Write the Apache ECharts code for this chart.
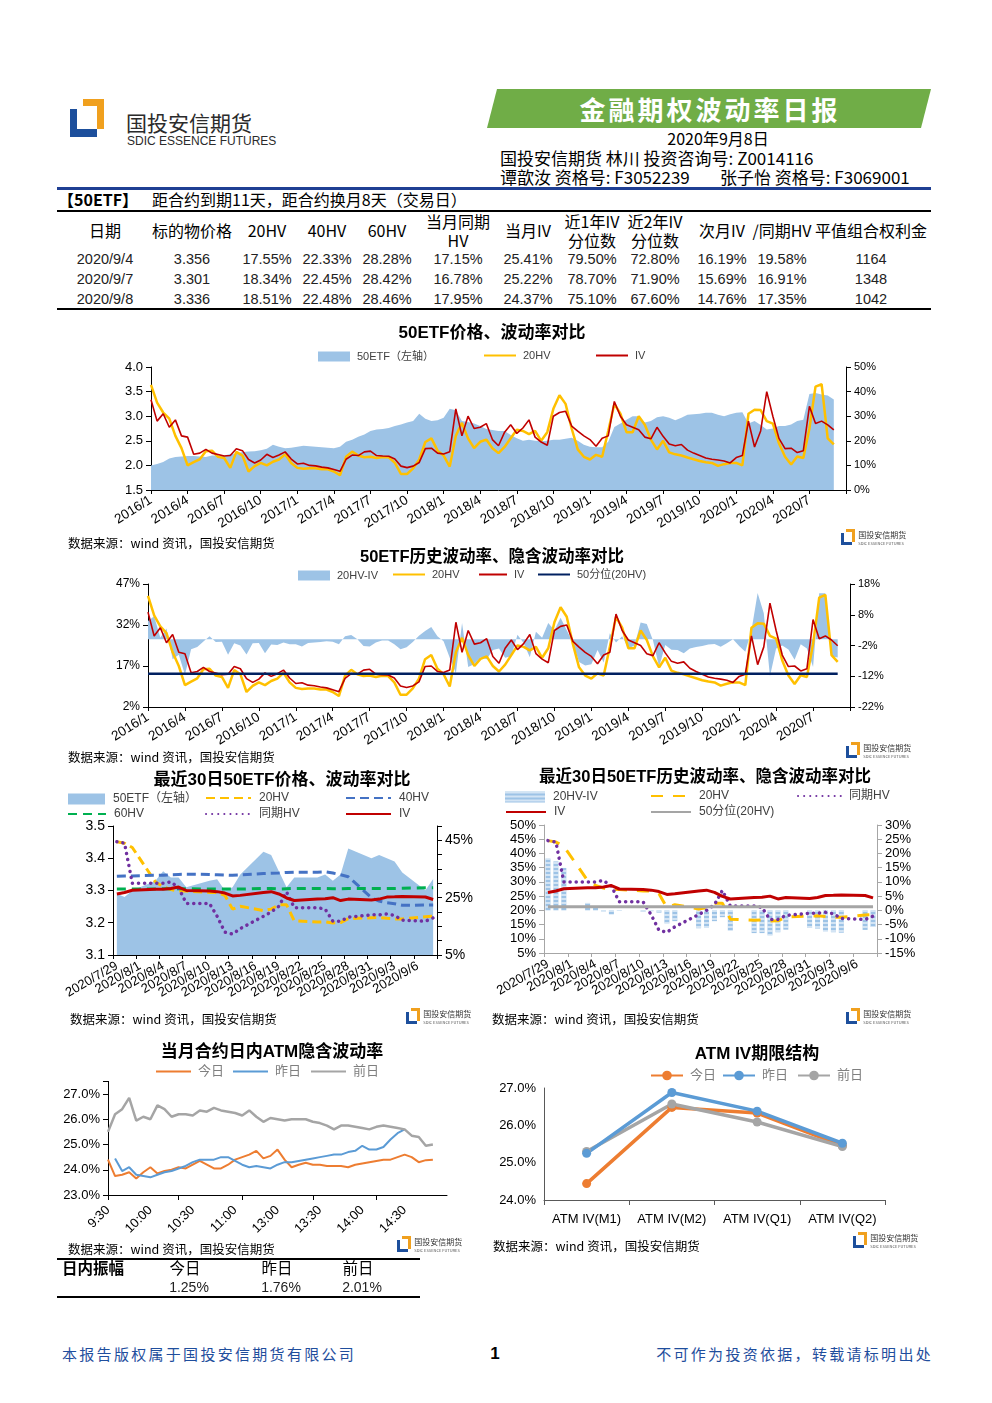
<!DOCTYPE html>
<html>
<head>
<meta charset="utf-8">
<title>金融期权波动率日报</title>
<script src="https://cdn.jsdelivr.net/npm/echarts@6/dist/echarts.min.js"></script>
<style>
  body { margin: 0; background: #fff; }
  #page { position: relative; width: 992px; height: 1403px; overflow: hidden; background: #fff;
          font-family: 'Noto Sans CJK SC', 'Liberation Sans', sans-serif; color: #000; }
  .t { position: absolute; white-space: nowrap; line-height: 1; }
  .b { position: absolute; }
  .chart { position: absolute; }
</style>
</head>
<body>
<div id="page">
  <div class="chart" id="c1" style="left:0;top:320px;width:992px;height:225px"></div>
  <div class="chart" id="c2" style="left:0;top:547px;width:992px;height:218px"></div>
  <div class="chart" id="c3" style="left:0;top:766px;width:490px;height:262px"></div>
  <div class="chart" id="c4" style="left:490px;top:766px;width:502px;height:262px"></div>
  <div class="chart" id="c5" style="left:0;top:1038px;width:490px;height:205px"></div>
  <div class="chart" id="c6" style="left:490px;top:1038px;width:502px;height:205px"></div>
</div>
<script>
const FONT = "'Liberation Sans','Noto Sans CJK SC',sans-serif"

// ---------- table ----------
const tableCols = [105, 192, 267, 327, 387, 458, 528, 592, 655, 722, 782, 871]
const tableHead = [['日期'], ['标的物价格'], ['20HV'], ['40HV'], ['60HV'], ['当月同期', 'HV'], ['当月IV'],
  ['近1年IV', '分位数'], ['近2年IV', '分位数'], ['次月IV'], ['/同期HV'], ['平值组合权利金']]
const tableRows = [
  ['2020/9/4', '3.356', '17.55%', '22.33%', '28.28%', '17.15%', '25.41%', '79.50%', '72.80%', '16.19%', '19.58%', '1164'],
  ['2020/9/7', '3.301', '18.34%', '22.45%', '28.42%', '16.78%', '25.22%', '78.70%', '71.90%', '15.69%', '16.91%', '1348'],
  ['2020/9/8', '3.336', '18.51%', '22.48%', '28.46%', '17.95%', '24.37%', '75.10%', '67.60%', '14.76%', '17.35%', '1042'],
]
const swingHead = ['今日', '昨日', '前日']
const swingVals = ['1.25%', '1.76%', '2.01%']

// ---------- long history (semi-monthly samples, 2016/1 - 2020/9) ----------
const longDates = []
for (let y = 2016; y <= 2020; y++) {
  for (let m = 1; m <= 12; m++) {
    if (y === 2020 && m > 10) break
    longDates.push(y + '/' + m + '/1')
    if (!(y === 2020 && m === 10)) longDates.push(y + '/' + m + '/16')
  }
}
const etfPrice = [2.00, 2.03, 2.07, 2.14, 2.17, 2.18, 2.19, 2.19, 2.18, 2.17,
  2.20, 2.20, 2.20, 2.23, 2.24, 2.27, 2.28, 2.29, 2.31, 2.34,
  2.42, 2.38, 2.35, 2.36, 2.38, 2.40, 2.39, 2.38, 2.37, 2.36,
  2.35, 2.38, 2.48, 2.52, 2.58, 2.63, 2.70, 2.73, 2.74, 2.76,
  2.80, 2.83, 2.87, 2.90, 3.05, 2.95, 2.90, 2.92, 2.97, 3.15,
  3.12, 2.90, 2.88, 2.85, 2.80, 2.74, 2.72, 2.70, 2.70, 2.62,
  2.55, 2.50, 2.52, 2.50, 2.49, 2.50, 2.52, 2.52, 2.54, 2.56,
  2.50, 2.42, 2.38, 2.37, 2.37, 2.48, 2.78, 2.85, 2.93, 3.00,
  3.00, 2.87, 2.90, 2.98, 3.00, 2.97, 2.92, 2.97, 3.03, 3.04,
  3.05, 3.07, 3.07, 3.03, 3.00, 3.04, 3.07, 3.08, 2.85, 2.90,
  2.82, 2.73, 2.75, 2.80, 2.80, 2.83, 2.90, 2.93, 3.45, 3.47,
  3.44, 3.42, 3.34]
const hv20 = [42.7, 35.5, 31.5, 29, 22, 17, 10, 11.3, 12.5, 15.8,
  16, 13.5, 13, 9, 15.5, 14, 7.5, 9.7, 11, 10,
  11.5, 12.4, 14.5, 11, 9, 8.6, 8.8, 8.8, 8.4, 8.4,
  7.5, 6, 13.5, 15.6, 14, 13.3, 13.5, 13, 13.4, 13.3,
  11, 6.5, 6.5, 8.8, 12.4, 19.5, 21, 16, 14, 9.5,
  22, 27.3, 21, 17, 19.6, 20.5, 17, 15, 17.5, 21,
  24.5, 24, 22.7, 24, 20, 23.5, 33, 38.5, 35, 25,
  16.5, 13.5, 12.4, 14.3, 13.5, 24, 35, 31, 23.5, 23.5,
  30, 26.5, 20.5, 16.5, 20, 15.3, 14.5, 14, 13.2, 12.5,
  11.8, 11.3, 11, 9.8, 10.5, 11, 11, 10, 31, 32.6,
  32.5, 28, 27, 19, 13.5, 10.4, 13.6, 13, 25, 42,
  43, 21, 18.5]
const ivAtm = [36.7, 28, 31, 25.5, 28.5, 22, 21.5, 14.5, 15, 16.5,
  15, 14.4, 13.8, 14, 16.8, 16, 12.4, 11, 12.2, 14.5,
  13.2, 14.2, 15.5, 12.6, 10.6, 10.9, 10, 9.8, 9.3, 9,
  8.3, 7.6, 12.5, 14.2, 14, 15.5, 15.8, 14, 13.8, 13.7,
  12.6, 9.7, 9.1, 9.7, 11.2, 16.8, 17, 15, 14.6, 15.5,
  33, 22, 30, 25, 25.5, 27, 20.5, 18, 23.5, 26.5,
  23, 25.2, 28.5, 21.5, 19.5, 18.2, 30, 31.5, 32, 26,
  23.9, 22, 20.5, 17.8, 21, 22, 36, 30, 26.5, 25.5,
  24.5, 21.5, 20.8, 25.5, 21.8, 18.7, 18, 18.5, 16.2, 15,
  14, 13, 12.5, 12.2, 11.8, 11, 13.2, 14, 28, 17.5,
  24, 40, 30, 21, 16.8, 17, 15.2, 16, 34, 27,
  28, 26.5, 24.4]
const hvMedianLong = 14.2

// ---------- last 30 trading days ----------
const days42 = []
for (let i = 0; i < 42; i++) {
  const d = new Date(2020, 6, 29 + i)
  days42.push(d.getFullYear() + '/' + (d.getMonth() + 1) + '/' + d.getDate())
}
const tradeDays30 = ['2020/7/29', '2020/7/30', '2020/7/31', '2020/8/3', '2020/8/4', '2020/8/5', '2020/8/6', '2020/8/7',
  '2020/8/10', '2020/8/11', '2020/8/12', '2020/8/13', '2020/8/14', '2020/8/17', '2020/8/18', '2020/8/19', '2020/8/20',
  '2020/8/21', '2020/8/24', '2020/8/25', '2020/8/26', '2020/8/27', '2020/8/28', '2020/8/31', '2020/9/1', '2020/9/2',
  '2020/9/3', '2020/9/4', '2020/9/7', '2020/9/8']
const etf30 = [3.29, 3.28, 3.30, 3.33, 3.36, 3.34, 3.34, 3.31, 3.33, 3.335, 3.30, 3.31, 3.35, 3.42, 3.41,
  3.36, 3.31, 3.34, 3.34, 3.35, 3.33, 3.35, 3.43, 3.40, 3.41, 3.40, 3.39, 3.356, 3.301, 3.336]
const hv20_30 = [44.5, 44.0, 42.5, 30.5, 28.8, 27.8, 27.3, 27.3, 26.8, 26.8, 25.8, 21.0, 22.0, 20.5, 21.0,
  22.5, 22.5, 16.9, 16.5, 16.6, 16.2, 16.3, 17.7, 18.0, 18.1, 17.8, 17.6, 17.55, 18.34, 18.51]
const hv40_30 = [32.5, 32.6, 32.6, 32.8, 32.8, 33.0, 33.1, 33.2, 33.1, 33.0, 32.9, 32.8, 32.9, 33.4, 33.5,
  33.6, 33.8, 33.9, 33.9, 34.0, 33.6, 33.0, 32.3, 25.0, 23.8, 23.2, 22.9, 22.33, 22.45, 22.48]
const hv60_30 = [28.0, 28.0, 28.0, 28.0, 28.1, 28.1, 28.1, 28.1, 28.0, 28.0, 28.0, 28.0, 28.0, 28.2, 28.2,
  28.0, 28.1, 28.2, 28.2, 28.2, 28.1, 28.1, 28.2, 28.2, 28.2, 28.2, 28.2, 28.28, 28.42, 28.46]
const sameHV30 = [44.5, 44.0, 30.0, 30.0, 30.0, 30.5, 28.5, 23.0, 23.0, 18.5, 13.0, 12.3, 14.2, 18.5, 20.0,
  22.0, 27.0, 21.5, 21.5, 21.0, 16.8, 16.8, 18.2, 19.0, 19.0, 19.3, 18.8, 17.15, 16.78, 17.95]
const iv30 = [26.3, 26.8, 27.6, 27.9, 27.9, 28.2, 28.7, 27.5, 27.3, 27.1, 26.6, 25.6, 25.8, 26.8, 27.1,
  26.3, 24.9, 24.0, 24.5, 24.6, 25.0, 24.0, 24.5, 24.2, 24.5, 25.2, 25.3, 25.41, 25.22, 24.37]
const hvMedian30 = 21.3

// ---------- intraday ATM IV (5-minute samples) ----------
const intradayTimes = []
const hm = (t) => Math.floor(t / 60) + ':' + String(t % 60).padStart(2, '0')
for (let t = 570; t < 690; t += 5) intradayTimes.push(hm(t))
for (let t = 780; t <= 900; t += 5) intradayTimes.push(hm(t))
const ivToday = [24.4, 23.75, 23.8, 23.9, 23.65, 23.9, 24.1, 23.85, 23.95, 24.0,
  24.1, 24.05, 24.2, 24.35, 24.2, 24.05, 24.05, 24.2, 24.4, 24.5,
  24.6, 24.75, 24.45, 24.55, 24.8, 24.4, 24.1, 24.2, 24.28, 24.2,
  24.2, 24.15, 24.15, 24.15, 24.1, 24.2, 24.25, 24.3, 24.35, 24.4,
  24.4, 24.5, 24.6, 24.5, 24.3, 24.38, 24.4]
const ivYesterday = [null, 24.45, 23.95, 24.1, 23.8, 23.75, 23.7, 23.8, 23.9, 23.95,
  24.05, 24.15, 24.3, 24.4, 24.4, 24.4, 24.5, 24.5, 24.35, 24.2,
  24.1, 24.15, 24.1, 24.05, 24.2, 24.3, 24.3, 24.35, 24.4, 24.45,
  24.5, 24.55, 24.6, 24.6, 24.7, 24.75, 24.95, 24.8, 24.8, 24.9,
  25.2, 25.45, 25.6]
const ivBefore = [25.5, 26.2, 26.4, 26.85, 25.95, 26.1, 26.0, 26.55, 26.4, 26.1,
  26.2, 26.2, 26.15, 26.35, 26.3, 26.45, 26.35, 26.3, 26.25, 26.15,
  26.35, 26.1, 25.9, 26.05, 26.0, 25.95, 26.0, 26.0, 26.0, 25.9,
  25.85, 25.75, 25.6, 25.75, 25.75, 25.7, 25.65, 25.6, 25.7, 25.75,
  25.7, 25.65, 25.6, 25.35, 25.3, 24.95, 25.0]

// ---------- ATM IV term structure ----------
const termLabels = ['ATM IV(M1)', 'ATM IV(M2)', 'ATM IV(Q1)', 'ATM IV(Q2)']
const termToday = [24.44, 26.48, 26.33, 25.46]
const termYesterday = [25.25, 26.88, 26.38, 25.52]
const termBefore = [25.3, 26.57, 26.09, 25.43]

// ================= page furniture =================
const page = document.getElementById('page')

function text(str, x, y, o) {
  o = o || {}
  const el = document.createElement('div')
  el.className = 't'
  el.textContent = str
  const fs = o.size || 14
  el.style.fontSize = fs + 'px'
  el.style.top = (y - fs / 2) + 'px'
  if (o.align === 'center') {
    el.style.left = x + 'px'
    el.style.transform = 'translateX(-50%)'
  } else if (o.align === 'right') {
    el.style.right = (992 - x) + 'px'
  } else {
    el.style.left = x + 'px'
  }
  if (o.bold) el.style.fontWeight = 'bold'
  if (o.color) el.style.color = o.color
  if (o.font) el.style.fontFamily = o.font
  if (o.spacing) el.style.letterSpacing = o.spacing + 'px'
  page.appendChild(el)
  return el
}

function box(x, y, w, h, color) {
  const el = document.createElement('div')
  el.className = 'b'
  el.style.left = x + 'px'
  el.style.top = y + 'px'
  el.style.width = w + 'px'
  el.style.height = h + 'px'
  el.style.background = color
  page.appendChild(el)
  return el
}

// s = mark height; mark is 34 x 38 at full size
function logo(x, y, s, big) {
  const u = s / 38
  box(x, y + 10 * u, 27 * u, 28 * u, '#1d4f9c')
  box(x + 13 * u, y, 21 * u, 30 * u, '#f0a01e')
  box(x + 7 * u, y + 7 * u, 20 * u, 23 * u, '#fff')
  if (big) {
    text('国投安信期货', x + 56, y + 23, { size: 21, color: '#2b2b2b' })
    text('SDIC ESSENCE FUTURES', x + 57, y + 42, { size: 12, color: '#2b2b2b', font: "'Liberation Sans Narrow','Liberation Sans',sans-serif" })
  } else {
    text('国投安信期货', x + 34 * u + 3, y + s * 0.35, { size: 8, color: '#333' })
    text('SDIC ESSENCE FUTURES', x + 34 * u + 3, y + s * 0.85, { size: 4, color: '#555' })
  }
}

// header
logo(70, 99, 38, true)
const banner = box(487, 89, 444, 39, '#70ad47')
banner.style.clipPath = 'polygon(10px 0, 100% 0, calc(100% - 10px) 100%, 0 100%)'
text('金融期权波动率日报', 710, 109, { size: 26, bold: true, color: '#fff', align: 'center', spacing: 3 })
text('2020年9月8日', 718, 138, { size: 16, align: 'center' })
text('国投安信期货 林川 投资咨询号: Z0014116', 500, 157, { size: 17 })
text('谭歆汝 资格号: F3052239', 500, 176, { size: 17 })
text('张子怡 资格号: F3069001', 720, 176, { size: 17 })
box(57, 187, 874, 3, '#1f3f93')

// table
text('【50ETF】', 58, 199, { size: 16, bold: true })
text('距合约到期11天，距合约换月8天（交易日）', 152, 199, { size: 16 })
box(57, 210, 874, 2, '#000')
tableHead.forEach((h, i) => {
  if (h.length === 1) text(h[0], tableCols[i], 230, { size: 16, align: 'center' })
  else {
    text(h[0], tableCols[i], 221, { size: 16, align: 'center' })
    text(h[1], tableCols[i], 240, { size: 16, align: 'center' })
  }
})
tableRows.forEach((row, r) => {
  row.forEach((v, i) => {
    text(v, tableCols[i], 259 + r * 20, { size: 14.5, align: 'center', font: FONT, color: '#222' })
  })
})
box(57, 308, 874, 2, '#000')

// sources and small logos
const SRC = '数据来源：wind 资讯，国投安信期货'
text(SRC, 68, 543, { size: 12.5 })
logo(841, 529, 16)
text(SRC, 68, 757, { size: 12.5 })
logo(846, 742, 16)
text(SRC, 70, 1019, { size: 12.5 })
logo(406, 1008, 16)
text(SRC, 492, 1019, { size: 12.5 })
logo(846, 1008, 16)
text(SRC, 68, 1249, { size: 12.5 })
logo(397, 1236, 16)
text(SRC, 493, 1246, { size: 12.5 })
logo(853, 1232, 16)

// intraday swing table
box(57, 1258, 363, 2, '#000')
text('日内振幅', 62, 1268, { size: 15.5, bold: true })
const swingX = [185, 277, 358]
swingHead.forEach((h, i) => text(h, swingX[i], 1268, { size: 15.5, align: 'center' }))
swingVals.forEach((v, i) => text(v, swingX[i] + 4, 1287, { size: 14, align: 'center', font: FONT, color: '#222' }))
box(57, 1296, 363, 1.5, '#000')

// footer
text('本报告版权属于国投安信期货有限公司', 62, 1353, { size: 15, color: '#1f4e9d', spacing: 2.3 })
text('1', 495, 1353, { size: 17, bold: true, align: 'center', font: FONT })
text('不可作为投资依据，转载请标明出处', 933, 1353, { size: 15, color: '#1f4e9d', spacing: 2.3, align: 'right' })

// ================= charts =================
const axisBase = (color) => ({
  axisLine: { show: true, onZero: false, lineStyle: { color: color || '#000' } },
  axisTick: { show: true, lineStyle: { color: color || '#000' } },
  splitLine: { show: false },
})

// one legend component per item so each can be placed where the original puts it
function leg(item, left, top, extra) {
  return Object.assign({
    data: [item], left: left, top: top, padding: 0, itemWidth: 32, itemHeight: 12, itemGap: 0,
    selectedMode: false, itemStyle: { opacity: 0 },
    textStyle: { fontSize: 11, color: '#404040', fontFamily: FONT, padding: [0, 0, 0, 2] },
  }, extra || {})
}
const solidIcon = { itemStyle: { opacity: 1 } }

function titleOf(t, cx, top, size) {
  return { text: t, left: cx, textAlign: 'center', top: top, padding: 0,
    textStyle: { fontSize: size || 17, fontWeight: 'bold', color: '#000', fontFamily: FONT } }
}

function lineSeries(name, data, color, width, yAxisIndex, dash, extra) {
  return Object.assign({
    name: name, type: 'line', data: data, yAxisIndex: yAxisIndex || 0, symbol: 'none', connectNulls: true,
    color: color, lineStyle: { color: color, width: width, type: dash || 'solid' },
  }, extra || {})
}

const longXAxis = {
  type: 'category', data: longDates, boundaryGap: false,
  ...axisBase(),
  axisTick: { show: true, interval: (i) => i % 6 === 0, length: 4, lineStyle: { color: '#000' } },
  axisLabel: { interval: (i) => i % 6 === 0 && i < 114, rotate: 32, fontSize: 13.5, color: '#000', fontFamily: FONT, margin: 9,
    formatter: (v) => v.replace(/\/1$/, '') },
}

// chart 1
const c1 = echarts.init(document.getElementById('c1'))
c1.setOption({
  animation: false,
  title: titleOf('50ETF价格、波动率对比', 492, 5),
  legend: [
    leg({ name: '50ETF（左轴）', icon: 'rect' }, 318, 31, Object.assign({ itemHeight: 10 }, solidIcon)),
    leg('20HV', 483, 30),
    leg('IV', 595, 30),
  ],
  grid: { left: 151, top: 47, width: 695, height: 123 },
  xAxis: longXAxis,
  yAxis: [
    { type: 'value', min: 1.5, max: 4, interval: 0.5, ...axisBase(),
      axisLabel: { fontSize: 13, color: '#000', fontFamily: FONT, formatter: (v) => v.toFixed(1) } },
    { type: 'value', min: 0, max: 50, interval: 10, position: 'right', ...axisBase(),
      axisLabel: { fontSize: 11, color: '#000', fontFamily: FONT, formatter: '{value}%' } },
  ],
  series: [
    lineSeries('50ETF（左轴）', etfPrice, '#9dc3e6', 0, 0, null, { areaStyle: { color: '#9dc3e6', opacity: 1 } }),
    lineSeries('20HV', hv20, '#ffc000', 2.5, 1),
    lineSeries('IV', ivAtm, '#c00000', 1.6, 1),
  ],
})

// chart 2
const hvMinusIv = hv20.map((v, i) => +(v - ivAtm[i]).toFixed(2))
const medianLong = hv20.map(() => hvMedianLong)
const c2 = echarts.init(document.getElementById('c2'))
c2.setOption({
  animation: false,
  title: titleOf('50ETF历史波动率、隐含波动率对比', 492, 2, 16.5),
  legend: [
    leg({ name: '20HV-IV', icon: 'rect' }, 298, 23, Object.assign({ itemHeight: 10 }, solidIcon)),
    leg('20HV', 392, 22),
    leg('IV', 478, 22, { itemWidth: 28 }),
    leg('50分位(20HV)', 537, 22),
  ],
  grid: { left: 148, top: 37, width: 702, height: 123 },
  xAxis: longXAxis,
  yAxis: [
    { type: 'value', min: 2, max: 47, interval: 15, ...axisBase(),
      axisLabel: { fontSize: 12, color: '#000', fontFamily: FONT, formatter: '{value}%' } },
    { type: 'value', min: -22, max: 18, interval: 10, position: 'right', ...axisBase(),
      axisLabel: { fontSize: 11, color: '#000', fontFamily: FONT, formatter: '{value}%' } },
  ],
  series: [
    lineSeries('20HV-IV', hvMinusIv, '#9dc3e6', 0, 1, null, { areaStyle: { color: '#9dc3e6', opacity: 1 } }),
    lineSeries('20HV', hv20, '#ffc000', 2.5, 0),
    lineSeries('IV', ivAtm, '#c00000', 1.6, 0),
    lineSeries('50分位(20HV)', medianLong, '#002060', 2.5, 0),
  ],
})

// last-30-day helpers: put trading-day values onto the calendar axis
const onCalendar = (vals) => days42.map((d) => {
  const k = tradeDays30.indexOf(d)
  return k < 0 ? null : vals[k]
})
const shortXAxis = (color) => ({
  type: 'category', data: days42, boundaryGap: true,
  axisLine: { show: true, onZero: false, lineStyle: { color: color } },
  axisTick: { show: true, interval: (i) => i % 3 === 0, length: 4, lineStyle: { color: color } },
  splitLine: { show: false },
  // lay out every label (so none is dropped for overlap) and blank all but every third day
  axisLabel: { interval: 0, hideOverlap: false, formatter: (v, i) => (i % 3 === 0 ? v : ''),
    rotate: 30, fontSize: 13, color: '#000', fontFamily: FONT, margin: 10 },
})
const dotted = [0.1, 6]

// chart 3
const c3 = echarts.init(document.getElementById('c3'))
const leg3 = { textStyle: { fontSize: 12, color: '#404040', fontFamily: FONT, padding: [0, 0, 0, 3] } }
c3.setOption({
  animation: false,
  title: titleOf('最近30日50ETF价格、波动率对比', 282, 6),
  legend: [
    leg({ name: '50ETF（左轴）', icon: 'rect' }, 68, 27, Object.assign({ itemWidth: 37, itemHeight: 11 }, leg3, solidIcon)),
    leg('20HV', 205, 26, Object.assign({ itemWidth: 45 }, leg3)),
    leg('40HV', 345, 26, Object.assign({ itemWidth: 45 }, leg3)),
    leg('60HV', 67, 42, Object.assign({ itemWidth: 38 }, leg3)),
    leg('同期HV', 205, 42, Object.assign({ itemWidth: 45 }, leg3)),
    leg('IV', 345, 42, Object.assign({ itemWidth: 45 }, leg3)),
  ],
  grid: { left: 113, top: 60, width: 324, height: 129 },
  xAxis: shortXAxis('#000'),
  yAxis: [
    { type: 'value', min: 3.1, max: 3.5, interval: 0.1, ...axisBase(),
      axisLabel: { fontSize: 14, color: '#000', fontFamily: FONT, formatter: (v) => v.toFixed(1) } },
    { type: 'value', min: 5, max: 50, interval: 5, position: 'right', ...axisBase(),
      axisLabel: { fontSize: 14, color: '#000', fontFamily: FONT, formatter: (v) => ((v - 5) % 20 === 0 ? v + '%' : '') } },
  ],
  series: [
    lineSeries('50ETF（左轴）', onCalendar(etf30), '#9dc3e6', 0, 0, null, { areaStyle: { color: '#9dc3e6', opacity: 1 } }),
    lineSeries('20HV', onCalendar(hv20_30), '#ffc000', 3, 1, [9, 5]),
    lineSeries('40HV', onCalendar(hv40_30), '#4472c4', 3, 1, [9, 5]),
    lineSeries('60HV', onCalendar(hv60_30), '#00b050', 3, 1, [9, 6]),
    lineSeries('同期HV', onCalendar(sameHV30), '#7030a0', 3.5, 1, dotted, { lineStyle: { color: '#7030a0', width: 3.5, type: dotted, cap: 'round' } }),
    lineSeries('IV', onCalendar(iv30), '#c00000', 3, 1),
  ],
})

// chart 4
const diff30 = onCalendar(hv20_30.map((v, i) => +(v - iv30[i]).toFixed(2)))
const median30 = days42.map(() => hvMedian30)
const c4 = echarts.init(document.getElementById('c4'))
const leg4 = { textStyle: { fontSize: 12, color: '#404040', fontFamily: FONT, padding: [0, 0, 0, 3] } }
c4.setOption({
  animation: false,
  title: titleOf('最近30日50ETF历史波动率、隐含波动率对比', 215, 3, 16.5),
  legend: [
    leg({ name: '20HV-IV', icon: 'rect' }, 15, 25, Object.assign({ itemWidth: 40, itemHeight: 11 }, leg4, solidIcon)),
    leg('20HV', 160, 24, Object.assign({ itemWidth: 40 }, leg4)),
    leg('同期HV', 307, 24, Object.assign({ itemWidth: 43 }, leg4)),
    leg('IV', 15, 40, Object.assign({ itemWidth: 40 }, leg4)),
    leg('50分位(20HV)', 160, 40, Object.assign({ itemWidth: 40 }, leg4)),
  ],
  grid: { left: 54, top: 59, width: 333, height: 128 },
  xAxis: shortXAxis('#a6a6a6'),
  yAxis: [
    { type: 'value', min: 5, max: 50, interval: 5, ...axisBase('#a6a6a6'),
      axisLabel: { fontSize: 13, color: '#000', fontFamily: FONT, formatter: '{value}%' } },
    { type: 'value', min: -15, max: 30, interval: 5, position: 'right', ...axisBase('#a6a6a6'),
      axisLabel: { fontSize: 13, color: '#000', fontFamily: FONT, formatter: '{value}%' } },
  ],
  series: [
    { name: '20HV-IV', type: 'bar', data: diff30, yAxisIndex: 1, barWidth: 5, color: '#9dc3e6',
      itemStyle: { color: '#9dc3e6', decal: { symbol: 'rect', symbolSize: 1, dashArrayX: [1, 0], dashArrayY: [2, 2], color: 'rgba(255,255,255,0.55)' } } },
    lineSeries('20HV', onCalendar(hv20_30), '#ffc000', 3, 0, [12, 10]),
    lineSeries('同期HV', onCalendar(sameHV30), '#7030a0', 3.5, 0, dotted, { lineStyle: { color: '#7030a0', width: 3.5, type: dotted, cap: 'round' } }),
    lineSeries('IV', onCalendar(iv30), '#c00000', 3, 0),
    lineSeries('50分位(20HV)', median30, '#a5a5a5', 3, 0),
  ],
})

// chart 5
const tickAt = [0, 10, 19, 29, 38]
const c5 = echarts.init(document.getElementById('c5'))
const leg5 = { itemWidth: 35, textStyle: { fontSize: 13, color: '#7f7f7f', fontFamily: FONT, padding: [0, 0, 0, 2] } }
c5.setOption({
  animation: false,
  title: titleOf('当月合约日内ATM隐含波动率', 272, 6),
  legend: [
    leg('今日', 155, 27, leg5),
    leg('昨日', 232, 27, leg5),
    leg('前日', 310, 27, leg5),
  ],
  grid: { left: 108, top: 43.4, width: 339, height: 113.6 },
  xAxis: {
    type: 'category', data: intradayTimes, boundaryGap: false, ...axisBase(),
    axisTick: { show: true, interval: (i) => tickAt.includes(i), length: 5, lineStyle: { color: '#000' } },
    axisLabel: { interval: (i) => i % 6 === 0 && i < 48, rotate: 45, fontSize: 13, color: '#000', fontFamily: FONT, margin: 13 },
  },
  yAxis: { type: 'value', min: 23, max: 27.5, interval: 1, ...axisBase(),
    axisLabel: { fontSize: 13, color: '#000', fontFamily: FONT,
      formatter: (v) => (Math.abs(v - Math.round(v)) < 1e-6 ? v.toFixed(1) + '%' : '') } },
  series: [
    lineSeries('今日', ivToday, '#ed7d31', 2, 0, null, { connectNulls: false }),
    lineSeries('昨日', ivYesterday, '#5b9bd5', 2, 0, null, { connectNulls: false }),
    lineSeries('前日', ivBefore, '#a5a5a5', 2.5, 0, null, { connectNulls: false }),
  ],
})

// chart 6
const c6 = echarts.init(document.getElementById('c6'))
const leg6 = Object.assign({ itemWidth: 32, textStyle: { fontSize: 13, color: '#7f7f7f', fontFamily: FONT, padding: [0, 0, 0, 2] } }, solidIcon)
const termSeries = (name, data, color) => ({
  name: name, type: 'line', data: data, color: color, symbol: 'circle', symbolSize: 9,
  lineStyle: { color: color, width: 3.5 }, itemStyle: { color: color },
})
c6.setOption({
  animation: false,
  title: titleOf('ATM IV期限结构', 267, 8),
  legend: [
    leg('今日', 160, 31, leg6),
    leg('昨日', 232, 31, leg6),
    leg('前日', 307, 31, leg6),
  ],
  grid: { left: 54, top: 50, width: 341, height: 112 },
  xAxis: {
    type: 'category', data: termLabels, boundaryGap: true, ...axisBase('#595959'),
    axisLabel: { interval: 0, fontSize: 13, color: '#000', fontFamily: FONT, margin: 13 },
  },
  yAxis: { type: 'value', min: 24, max: 27, interval: 1, ...axisBase('#595959'),
    axisTick: { show: false },
    axisLabel: { fontSize: 13, color: '#000', fontFamily: FONT, formatter: (v) => v.toFixed(1) + '%' } },
  series: [
    termSeries('今日', termToday, '#ed7d31'),
    termSeries('前日', termBefore, '#a5a5a5'),
    termSeries('昨日', termYesterday, '#5b9bd5'),
  ],
})
</script>
</body>
</html>
